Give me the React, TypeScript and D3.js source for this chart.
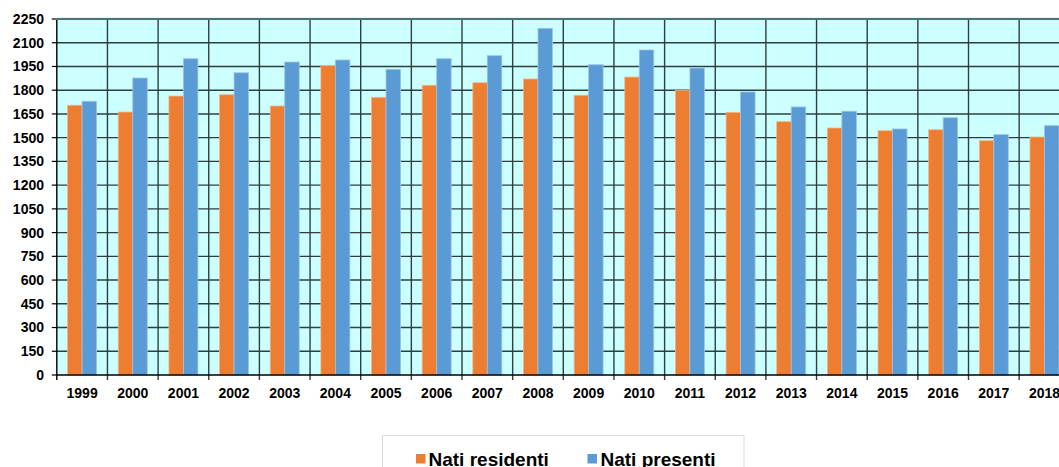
import React from "react";
import * as d3 from "d3";

const years = ["1999","2000","2001","2002","2003","2004","2005","2006","2007","2008","2009","2010","2011","2012","2013","2014","2015","2016","2017","2018"];
const natiResidenti = [1705,1662,1763,1771,1700,1955,1755,1831,1847,1871,1768,1883,1799,1660,1601,1561,1544,1550,1481,1504];
const natiPresenti = [1730,1877,1999,1910,1978,1991,1932,1999,2018,2191,1961,2054,1940,1789,1694,1667,1555,1626,1519,1576];
const yTicks = [0,150,300,450,600,750,900,1050,1200,1350,1500,1650,1800,1950,2100,2250];
const seriesNames = ["Nati residenti", "Nati presenti"];

const W = 1059, H = 467;
const left = 56.8, step = 50.65, top = 19, bottom = 375;
const font = "'Liberation Sans', Arial, sans-serif";
const orange = "#ed7d31", blue = "#5b9bd5";

export default function App() {
  const x = d3.scaleBand<string>().domain(years).range([left, left + step * years.length]).padding(0);
  const y = d3.scaleLinear().domain([0, 2250]).range([bottom, top]);
  const bw = x.bandwidth() * 0.286;
  const grid = "#2f3f3f";
  return (
    <svg width={W} height={H} style={{ position: "fixed", left: 0, top: 0, background: "#fff" }} fontFamily={font}>
      <rect x={left} y={17} width={W - left} height={bottom - 17} fill="#ccffff" />
      {yTicks.map((t) => (
        <g key={t}>
          {t > 0 && <line x1={left} x2={W} y1={y(t)} y2={y(t)} stroke={grid} strokeWidth={1.4} />}
          <line x1={left - 5} x2={left} y1={y(t)} y2={y(t)} stroke="#000" strokeWidth={1.2} />
          <text x={44} y={y(t)} dy="0.35em" textAnchor="end" fontSize={14} fontWeight="bold" fill="#000">{t}</text>
        </g>
      ))}
      {years.map((yr) => (
        <line key={"v" + yr} x1={(x(yr) as number) + step} x2={(x(yr) as number) + step} y1={top + 1} y2={bottom + 5} stroke={grid} strokeWidth={1.4} />
      ))}
      <line x1={left} x2={left} y1={top + 1} y2={bottom + 5} stroke="#000" strokeWidth={1.4} />
      {years.map((yr, i) => {
        const cx = (x(yr) as number) + x.bandwidth() / 2;
        return (
          <g key={"b" + yr}>
            <rect x={cx - bw} y={y(natiResidenti[i])} width={bw} height={bottom - y(natiResidenti[i])} fill={orange} stroke="#f4b183" strokeWidth={0.8} />
            <rect x={cx} y={y(natiPresenti[i])} width={bw} height={bottom - y(natiPresenti[i])} fill={blue} stroke="#9dc3e6" strokeWidth={0.8} />
            <text x={cx} y={398} textAnchor="middle" fontSize={14} fontWeight="bold" fill="#000">{yr}</text>
          </g>
        );
      })}
      <line x1={left} x2={W} y1={bottom} y2={bottom} stroke="#000" strokeWidth={1.4} />
      <g>
        <rect x={382.5} y={435.5} width={361.5} height={40} fill="#fff" stroke="#d9d9d9" strokeWidth={1} />
        <rect x={416} y={454} width={9.5} height={9.5} fill={orange} />
        <text x={428.5} y={466} fontSize={19} fontWeight="bold" fill="#000">{seriesNames[0]}</text>
        <rect x={587.5} y={454} width={9.5} height={9.5} fill={blue} />
        <text x={600.5} y={466} fontSize={19} fontWeight="bold" fill="#000">{seriesNames[1]}</text>
      </g>
    </svg>
  );
}
